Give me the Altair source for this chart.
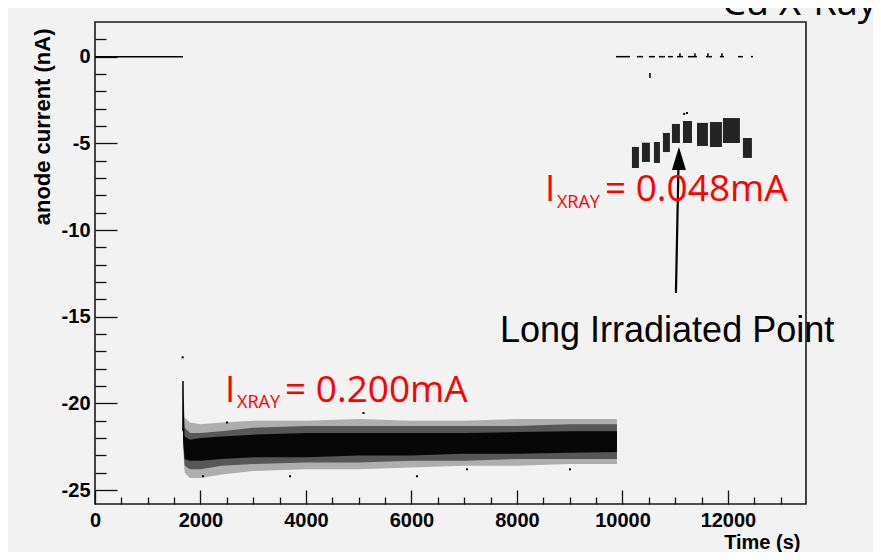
import altair as alt
import pandas as pd

# ---------------- axis tick values ----------------
x_major = [0, 2000, 4000, 6000, 8000, 10000, 12000]
x_minor = [500, 1000, 1500, 2500, 3000, 3500, 4500, 5000, 5500, 6500, 7000, 7500,
           8500, 9000, 9500, 10500, 11000, 11500, 12500, 13000]
y_major = [0, -5, -10, -15, -20, -25]
y_minor = [1, -1, -2, -3, -4, -6, -7, -8, -9, -11, -12, -13, -14, -16, -17, -18, -19,
           -21, -22, -23, -24]

# ---------------- zero-level segments (beam off) ----------------
zero_start = [0, 9877, 10275, 10502, 10692, 10863, 11033, 11242, 11583, 11848, 12190, 12436]
zero_end = [1668, 10142, 10389, 10616, 10806, 10957, 11147, 11412, 11697, 11924, 12284, 12474]
zero_level = [0, 0, 0, 0, 0, 0, 0, 0, 0, 0, 0, 0]

# ---------------- I_XRAY = 0.200 mA band (envelopes read from the dot cloud) ----------------
band_t = [1668, 1700, 1800, 2000, 2400, 3000, 4000, 5000, 6000, 7000, 8000, 9000, 9896]
outer_hi = [-18.7, -20.8, -21.1, -21.2, -21.1, -21.0, -21.0, -20.9, -21.0, -21.0, -20.9, -20.9, -20.9]
mid_hi = [-19.0, -21.4, -21.7, -21.7, -21.6, -21.4, -21.3, -21.3, -21.3, -21.3, -21.3, -21.2, -21.2]
core_hi = [-19.5, -21.9, -22.1, -22.0, -21.9, -21.8, -21.7, -21.7, -21.7, -21.7, -21.65, -21.6, -21.6]
core_lo = [-22.0, -23.2, -23.3, -23.3, -23.2, -23.1, -23.1, -23.0, -23.0, -22.9, -22.9, -22.85, -22.8]
mid_lo = [-22.2, -23.6, -23.8, -23.8, -23.6, -23.5, -23.4, -23.4, -23.3, -23.3, -23.2, -23.2, -23.2]
outer_lo = [-22.3, -24.0, -24.3, -24.3, -24.1, -23.9, -23.8, -23.8, -23.7, -23.6, -23.6, -23.5, -23.5]

# ---------------- I_XRAY = 0.048 mA clusters ----------------
cl_start = [10180, 10370, 10597, 10768, 10938, 11147, 11413, 11659, 11905, 12284]
cl_end = [10313, 10521, 10711, 10900, 11090, 11318, 11621, 11886, 12227, 12455]
cl_top = [-5.21, -4.96, -4.92, -4.40, -3.88, -3.71, -3.82, -3.77, -3.54, -4.69]
cl_bot = [-6.42, -6.07, -6.13, -5.50, -4.98, -4.98, -5.15, -5.21, -4.98, -5.84]

# ---------------- short vertical streaks (decay onset, spikes, stray points) ----------------
seg_t = [1668, 11090, 11375, 11621, 11886, 10521]
seg_top = [-18.7, 0.2, 0.2, 0.2, 0.2, -0.94]
seg_bot = [-21.6, 0.0, 0.0, 0.0, 0.0, -1.23]

# ---------------- isolated outlier points ----------------
out_t = [1662, 5090, 3697, 6104, 7052, 9005, 2047, 2502, 11223, 11170]
out_v = [-17.34, -20.55, -24.2, -24.2, -23.8, -23.8, -24.2, -21.1, -3.25, -3.3]

# ---------------- annotations ----------------
arrow_t0, arrow_v0 = [11014], [-13.63]
arrow_t1, arrow_v1 = [11062], [-6.3]
head_t, head_v = [11071], [-5.87]

ann_I_t = [2464, 8531]
ann_I_v = [-19.94, -8.30]
ann_sub_t = [2692, 8758]
ann_sub_v = [-20.26, -8.73]
ann_eq_t = [3602, 9668]
ann_eq_v = [-19.94, -8.30]
ann_eq_text = ["= 0.200mA", "= 0.048mA"]
long_t, long_v, long_text = [7678], [-16.45], ["Long Irradiated Point"]
cu_t, cu_v, cu_text = [11886], [2.40], ["Cu X-Ray"]

# ---------------- chart ----------------
XS = alt.Scale(domain=[0, 13480], nice=False, zero=False)
YS = alt.Scale(domain=[-25.8, 2.0], nice=False, zero=False)
AX_FONT = "Liberation Sans"

x_label_axis = alt.Axis(orient="bottom", values=x_major, format="d", ticks=False, domain=False,
                        grid=False, labelFont=AX_FONT, labelFontWeight="bold", labelFontSize=20,
                        labelColor="#000", labelPadding=6, labelFlush=False,
                        title="Time (s)", titleFont=AX_FONT, titleFontWeight="bold",
                        titleFontSize=20, titleColor="#000", titleX=705, titleY=44,
                        titleAlign="right", titleBaseline="alphabetic")
y_label_axis = alt.Axis(orient="left", values=y_major, ticks=False, domain=False, grid=False,
                        labelExpr="datum.value < 0 ? '-' + (-datum.value) : '' + datum.value",
                        labelFont=AX_FONT, labelFontWeight="bold", labelFontSize=20,
                        labelColor="#000", labelPadding=5,
                        title="anode current (nA)", titleFont=AX_FONT, titleFontWeight="bold",
                        titleFontSize=22, titleColor="#000", titleX=-46, titleY=6,
                        titleAngle=270, titleAlign="right", titleBaseline="alphabetic")


def tick_axis(orient, vals, size):
    return alt.Axis(orient=orient, values=vals, labels=False, domain=False, grid=False,
                    ticks=True, tickSize=size, offset=-size, tickColor="#111",
                    tickWidth=1.3, title=None)


zero_df = pd.DataFrame({"s": zero_start, "e": zero_end, "v": zero_level})
band_df = pd.DataFrame({"t": band_t, "oh": outer_hi, "mh": mid_hi, "ch": core_hi,
                        "cl": core_lo, "ml": mid_lo, "ol": outer_lo})
cl_df = pd.DataFrame({"s": cl_start, "e": cl_end, "top": cl_top, "bot": cl_bot})
seg_df = pd.DataFrame({"t": seg_t, "top": seg_top, "bot": seg_bot})
out_df = pd.DataFrame({"t": out_t, "v": out_v})
arrow_df = pd.DataFrame({"t0": arrow_t0, "v0": arrow_v0, "t1": arrow_t1, "v1": arrow_v1})
head_df = pd.DataFrame({"t": head_t, "v": head_v})
I_df = pd.DataFrame({"t": ann_I_t, "v": ann_I_v, "txt": ["I", "I"]})
sub_df = pd.DataFrame({"t": ann_sub_t, "v": ann_sub_v, "txt": ["XRAY", "XRAY"]})
eq_df = pd.DataFrame({"t": ann_eq_t, "v": ann_eq_v, "txt": ann_eq_text})
long_df = pd.DataFrame({"t": long_t, "v": long_v, "txt": long_text})
cu_df = pd.DataFrame({"t": cu_t, "v": cu_v, "txt": cu_text})

zero_layer = alt.Chart(zero_df).mark_rule(color="#000", strokeWidth=1.5).encode(
    x=alt.X("s:Q", scale=XS, axis=x_label_axis),
    x2="e:Q",
    y=alt.Y("v:Q", scale=YS, axis=y_label_axis),
)

outer_layer = alt.Chart(band_df).mark_area(color="#000", opacity=0.28).encode(
    x=alt.X("t:Q", scale=XS, axis=tick_axis("bottom", x_major, 14)),
    y=alt.Y("oh:Q", scale=YS, axis=tick_axis("left", y_major, 22)),
    y2="ol:Q",
)
mid_layer = alt.Chart(band_df).mark_area(color="#000", opacity=0.5).encode(
    x=alt.X("t:Q", scale=XS, axis=tick_axis("bottom", x_minor, 7)),
    y=alt.Y("mh:Q", scale=YS, axis=tick_axis("left", y_minor, 11)),
    y2="ml:Q",
)
core_layer = alt.Chart(band_df).mark_area(color="#000", opacity=0.92).encode(
    x=alt.X("t:Q", scale=XS, axis=None),
    y=alt.Y("ch:Q", scale=YS, axis=None),
    y2="cl:Q",
)

cluster_layer = alt.Chart(cl_df).mark_rect(color="#000", opacity=0.85).encode(
    x=alt.X("s:Q", scale=XS, axis=None), x2="e:Q",
    y=alt.Y("top:Q", scale=YS, axis=None), y2="bot:Q",
)

seg_layer = alt.Chart(seg_df).mark_rule(color="#000", strokeWidth=1.5).encode(
    x=alt.X("t:Q", scale=XS, axis=None),
    y=alt.Y("top:Q", scale=YS, axis=None), y2="bot:Q",
)

out_layer = alt.Chart(out_df).mark_square(color="#000", size=4, opacity=1).encode(
    x=alt.X("t:Q", scale=XS, axis=None),
    y=alt.Y("v:Q", scale=YS, axis=None),
)

arrow_layer = alt.Chart(arrow_df).mark_rule(color="#000", strokeWidth=2.2).encode(
    x=alt.X("t0:Q", scale=XS, axis=None), x2="t1:Q",
    y=alt.Y("v0:Q", scale=YS, axis=None), y2="v1:Q",
)
head_layer = alt.Chart(head_df).mark_point(
    shape="M -0.61 1 L 0 -1 L 0.61 1 Z", filled=True, color="#000", opacity=1, size=529
).encode(
    x=alt.X("t:Q", scale=XS, axis=None),
    y=alt.Y("v:Q", scale=YS, axis=None),
)


def text_layer(df, size, color, font):
    return alt.Chart(df).mark_text(align="left", baseline="alphabetic", fontSize=size,
                                   color=color, font=font).encode(
        x=alt.X("t:Q", scale=XS, axis=None),
        y=alt.Y("v:Q", scale=YS, axis=None),
        text="txt:N",
    )


RED = "#ff0000"
layers = [
    outer_layer, mid_layer, core_layer, zero_layer, cluster_layer, seg_layer, out_layer,
    arrow_layer, head_layer,
    text_layer(I_df, 37, RED, "Open Sans"),
    text_layer(sub_df, 18, RED, "Open Sans"),
    text_layer(eq_df, 37, RED, "Open Sans"),
    text_layer(long_df, 36, "#000", "Liberation Sans"),
    text_layer(cu_df, 38, "#000", "Open Sans"),
]

chart = alt.layer(*layers).resolve_axis(x="independent", y="independent").properties(
    width=711,
    height=482,
    autosize=alt.AutoSizeParams(type="none"),
    padding={"left": 87, "top": 14, "right": 67, "bottom": 48},
).configure(background="#f2f2f2").configure_view(
    stroke="#1a1a1a", strokeWidth=1.6, fill="#f2f2f2"
)

chart.save("out.html", embed_options={"renderer": "svg", "actions": False})
